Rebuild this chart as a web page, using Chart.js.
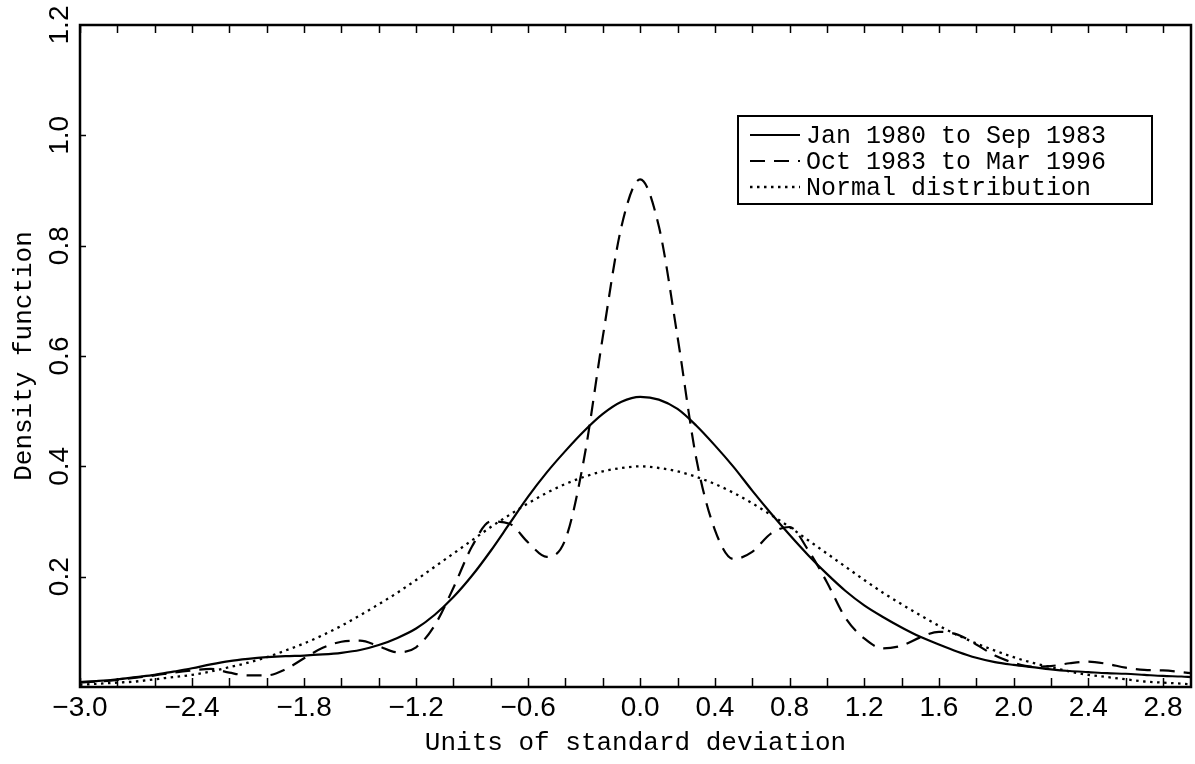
<!DOCTYPE html>
<html lang="en">
<head>
<meta charset="utf-8">
<title>Density function</title>
<script src="https://cdn.jsdelivr.net/npm/chart.js@4.4.1/dist/chart.umd.min.js"></script>
<style>
  html, body { margin: 0; padding: 0; background: #fff; }
</style>
</head>
<body>
<canvas id="myChart" width="1195" height="764"></canvas>
<script>
// units of standard deviation
var xValues = [
  -3.0, -2.9, -2.8, -2.7, -2.6, -2.5, -2.4, -2.3, -2.2, -2.1,
  -2.0, -1.9, -1.8, -1.7, -1.6, -1.5, -1.4, -1.3, -1.2, -1.1,
  -1.0, -0.9, -0.8, -0.7, -0.6, -0.5, -0.4, -0.3, -0.2, -0.1,
   0.0,  0.1,  0.2,  0.3,  0.4,  0.5,  0.6,  0.7,  0.8,  0.9,
   1.0,  1.1,  1.2,  1.3,  1.4,  1.5,  1.6,  1.7,  1.8,  1.9,
   2.0,  2.1,  2.2,  2.3,  2.4,  2.5,  2.6,  2.7,  2.8,  2.9,
   2.95
];

var jan80Sep83 = [
  0.009, 0.011, 0.014, 0.018, 0.022, 0.028, 0.034, 0.041, 0.047, 0.051,
  0.054, 0.056, 0.057, 0.059, 0.062, 0.067, 0.076, 0.089, 0.106, 0.131,
  0.163, 0.202, 0.247, 0.296, 0.345, 0.389, 0.428, 0.464, 0.495, 0.517,
  0.526, 0.521, 0.504, 0.474, 0.438, 0.399, 0.356, 0.315, 0.276, 0.239,
  0.205, 0.174, 0.148, 0.127, 0.108, 0.091, 0.077, 0.064, 0.053, 0.045,
  0.040, 0.036, 0.032, 0.029, 0.027, 0.025, 0.024, 0.022, 0.020, 0.019,
  0.018
];

var oct83Mar96 = [
  0.008, 0.010, 0.013, 0.017, 0.021, 0.026, 0.030, 0.033, 0.026, 0.021,
  0.021, 0.032, 0.052, 0.071, 0.082, 0.084, 0.074, 0.063, 0.072, 0.112,
  0.180, 0.255, 0.300, 0.296, 0.262, 0.236, 0.268, 0.415, 0.635, 0.835,
  0.920, 0.835, 0.635, 0.415, 0.285, 0.232, 0.245, 0.278, 0.290, 0.248,
  0.190, 0.125, 0.088, 0.070, 0.075, 0.090, 0.100, 0.095, 0.077, 0.057,
  0.044, 0.037, 0.038, 0.043, 0.046, 0.042, 0.035, 0.031, 0.030, 0.027,
  0.025
];

var normalDist = [
  0.004, 0.006, 0.008, 0.010, 0.014, 0.018, 0.022, 0.028, 0.036, 0.044,
  0.054, 0.066, 0.079, 0.094, 0.111, 0.130, 0.150, 0.171, 0.194, 0.218,
  0.242, 0.266, 0.290, 0.312, 0.333, 0.352, 0.368, 0.381, 0.391, 0.397,
  0.400, 0.397, 0.391, 0.381, 0.368, 0.352, 0.333, 0.312, 0.290, 0.266,
  0.242, 0.218, 0.194, 0.171, 0.150, 0.130, 0.111, 0.094, 0.079, 0.066,
  0.054, 0.044, 0.036, 0.028, 0.022, 0.018, 0.014, 0.010, 0.008, 0.006,
  0.005
];

var seriesNames = ['Jan 1980 to Sep 1983', 'Oct 1983 to Mar 1996', 'Normal distribution'];

var xTickValues = [-3.0, -2.4, -1.8, -1.2, -0.6, 0.0, 0.4, 0.8, 1.2, 1.6, 2.0, 2.4, 2.8];
var xTickLabels = ['\u22123.0', '\u22122.4', '\u22121.8', '\u22121.2', '\u22120.6', '0.0', '0.4', '0.8', '1.2', '1.6', '2.0', '2.4', '2.8'];
var yTickValues = [0.2, 0.4, 0.6, 0.8, 1.0, 1.2];
var yTickLabels = ['0.2', '0.4', '0.6', '0.8', '1.0', '1.2'];

function toPoints(ys) {
  return xValues.map(function (x, i) { return { x: x, y: ys[i] }; });
}

var monoFont = "'Liberation Mono', 'Courier New', monospace";
var sansFont = "'Liberation Sans', Arial, sans-serif";

// box around the plot plus small inward tick marks every 0.2
var frameTicks = {
  id: 'frameTicks',
  afterDatasetsDraw: function (chart) {
    var ctx = chart.ctx, a = chart.chartArea;
    var xs = chart.scales.x, ys = chart.scales.y;
    ctx.save();
    ctx.strokeStyle = '#000';
    ctx.lineWidth = 1.5;
    for (var i = -15; i <= 14; i++) {
      var px = Math.round(xs.getPixelForValue(i * 0.2)) + 0.5;
      ctx.beginPath();
      ctx.moveTo(px, a.bottom); ctx.lineTo(px, a.bottom - 9);
      ctx.moveTo(px, a.top); ctx.lineTo(px, a.top + 8);
      ctx.stroke();
    }
    for (var j = 1; j <= 5; j++) {
      var py = Math.round(ys.getPixelForValue(j * 0.2)) + 0.5;
      ctx.beginPath();
      ctx.moveTo(a.left, py); ctx.lineTo(a.left + 6, py);
      ctx.stroke();
    }
    ctx.lineWidth = 2.5;
    ctx.strokeRect(a.left, a.top, a.right - a.left, a.bottom - a.top);
    ctx.restore();
  }
};

// boxed legend in the upper right, built from the dataset styles
var boxLegend = {
  id: 'boxLegend',
  afterDraw: function (chart) {
    var ctx = chart.ctx;
    var left = 738, top = 116, w = 414, h = 88;
    ctx.save();
    ctx.fillStyle = '#fff';
    ctx.fillRect(left, top, w, h);
    ctx.strokeStyle = '#000';
    ctx.lineWidth = 2;
    ctx.strokeRect(left, top, w, h);
    ctx.font = '25px ' + monoFont;
    ctx.textBaseline = 'middle';
    ctx.fillStyle = '#000';
    chart.data.datasets.forEach(function (ds, i) {
      var y = top + 19 + i * 26;
      ctx.beginPath();
      ctx.setLineDash(ds.borderDash || []);
      ctx.lineWidth = ds.borderWidth;
      ctx.moveTo(left + 12, y);
      ctx.lineTo(left + 62, y);
      ctx.stroke();
      ctx.setLineDash([]);
      ctx.fillText(ds.label, left + 68, y + 1);
    });
    ctx.restore();
  }
};

var config = {
  type: 'line',
  data: {
    datasets: [{
      label: seriesNames[0],
      data: toPoints(jan80Sep83),
      borderColor: '#000',
      borderWidth: 2.2,
      borderDash: [],
      pointRadius: 0,
      fill: false,
      cubicInterpolationMode: 'monotone'
    }, {
      label: seriesNames[1],
      data: toPoints(oct83Mar96),
      borderColor: '#000',
      borderWidth: 2.2,
      borderDash: [15, 9],
      pointRadius: 0,
      fill: false,
      cubicInterpolationMode: 'monotone'
    }, {
      label: seriesNames[2],
      data: toPoints(normalDist),
      borderColor: '#000',
      borderWidth: 2.3,
      borderDash: [2.5, 4.5],
      pointRadius: 0,
      fill: false,
      cubicInterpolationMode: 'monotone'
    }]
  },
  options: {
    responsive: false,
    animation: false,
    devicePixelRatio: 1,
    layout: { padding: { top: 25, right: 4, bottom: 0, left: 0 } },
    plugins: {
      legend: { display: false },
      tooltip: { enabled: false }
    },
    scales: {
      x: {
        type: 'linear',
        min: -3.0,
        max: 2.95,
        afterBuildTicks: function (scale) {
          scale.ticks = xTickValues.map(function (v) { return { value: v }; });
        },
        afterFit: function (scale) { scale.height = 77; },
        grid: { display: false, drawTicks: false },
        border: { display: false },
        ticks: {
          autoSkip: false,
          maxRotation: 0,
          padding: 4,
          color: '#000',
          font: { family: sansFont, size: 28 },
          callback: function (value, index) { return xTickLabels[index]; }
        },
        title: {
          display: true,
          text: 'Units of standard deviation',
          color: '#000',
          font: { family: monoFont, size: 26 },
          padding: { top: 0, bottom: 5 }
        }
      },
      y: {
        min: 0,
        max: 1.2,
        afterBuildTicks: function (scale) {
          scale.ticks = yTickValues.map(function (v) { return { value: v }; });
        },
        afterFit: function (scale) { scale.width = 80; },
        grid: { display: false, drawTicks: false },
        border: { display: false },
        ticks: {
          autoSkip: false,
          minRotation: 90,
          maxRotation: 90,
          crossAlign: 'center',
          padding: 0,
          color: '#000',
          font: { family: sansFont, size: 28 },
          callback: function (value, index) { return yTickLabels[index]; }
        },
        title: {
          display: true,
          text: 'Density function',
          color: '#000',
          font: { family: monoFont, size: 26 },
          padding: { top: 9, bottom: 0 }
        }
      }
    }
  },
  plugins: [frameTicks, boxLegend]
};

window.onload = function () {
  var ctx = document.getElementById('myChart').getContext('2d');
  window.myLine = new Chart(ctx, config);
};
</script>
</body>
</html>
